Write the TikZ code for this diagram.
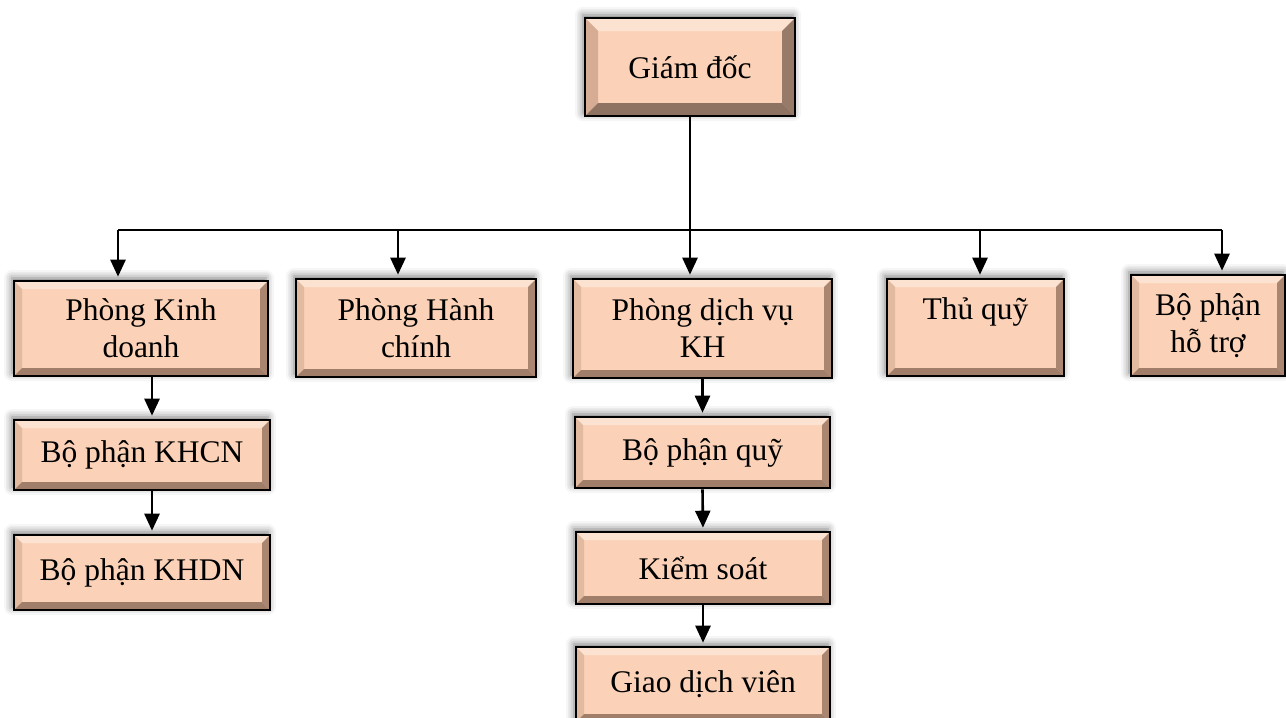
\documentclass[tikz,border=0pt]{standalone}
\usepackage{fontspec}
\setmainfont{Liberation Serif}
\usepackage{xcolor}
\usetikzlibrary{arrows.meta,shadows.blur}

\definecolor{face}{RGB}{251,210,184}
\definecolor{bevtop}{RGB}{252,226,208}
\definecolor{bevleft}{RGB}{226,186,160}
\definecolor{bevright}{RGB}{170,134,112}
\definecolor{bevbot}{RGB}{160,126,106}
\definecolor{headleft}{RGB}{214,172,148}
\definecolor{headright}{RGB}{152,122,104}
\definecolor{headbot}{RGB}{142,114,98}

% bevel: width, top, left, right, bottom
\newcommand{\bevel}[5]{%
  \fill[#2] (path picture bounding box.north west) -- (path picture bounding box.north east)
    -- ([xshift=-#1,yshift=-#1]path picture bounding box.north east)
    -- ([xshift=#1,yshift=-#1]path picture bounding box.north west) -- cycle;
  \fill[#3] (path picture bounding box.north west) -- ([xshift=#1,yshift=-#1]path picture bounding box.north west)
    -- ([xshift=#1,yshift=#1]path picture bounding box.south west)
    -- (path picture bounding box.south west) -- cycle;
  \fill[#4] (path picture bounding box.north east) -- ([xshift=-#1,yshift=-#1]path picture bounding box.north east)
    -- ([xshift=-#1,yshift=#1]path picture bounding box.south east)
    -- (path picture bounding box.south east) -- cycle;
  \fill[#5] (path picture bounding box.south west) -- ([xshift=#1,yshift=#1]path picture bounding box.south west)
    -- ([xshift=-#1,yshift=#1]path picture bounding box.south east)
    -- (path picture bounding box.south east) -- cycle;
}

\begin{document}
\begin{tikzpicture}[x=1pt,y=-1pt]
    \tikzstyle{panel}=[rectangle,draw=black,line width=2.6pt,fill=face,
        align=center,inner sep=0pt,
        font=\fontsize{31.5}{37}\selectfont,
        blur shadow={shadow xshift=-2pt,shadow yshift=3pt,shadow blur radius=8pt,shadow opacity=55},
        path picture={\bevel{8pt}{bevtop}{bevleft}{bevright}{bevbot}}]
    \tikzstyle{headpanel}=[panel,
        path picture={\bevel{13pt}{bevtop}{headleft}{headright}{headbot}}]
    \tikzstyle{arr}=[line width=2.6pt,-{Triangle[width=15pt,length=17pt]},shorten >=3pt]

    \useasboundingbox (0,0) rectangle (1286,718);

    % Director
    \node [headpanel,minimum width=210pt,minimum height=98pt] (gd) at (690,67) {Giám đốc};

    % Departments
    \node [panel,minimum width=254pt,minimum height=95pt] (pkd) at (141,328.5) {Phòng Kinh\\doanh};
    \node [panel,minimum width=240pt,minimum height=98pt] (phc) at (416,328) {Phòng Hành\\chính};
    \node [panel,minimum width=259pt,minimum height=99pt] (pdv) at (702.5,328.5) {Phòng dịch vụ\\KH};
    \node [panel,minimum width=177pt,minimum height=97pt] (tq) at (975.5,327.5) {Thủ quỹ\\\mbox{}};
    \node [panel,minimum width=154pt,minimum height=101pt] (bpht) at (1208,325.5) {Bộ phận\\hỗ trợ};

    % Sub units
    \node [panel,minimum width=256pt,minimum height=70pt] (khcn) at (142,455) {Bộ phận KHCN};
    \node [panel,minimum width=256pt,minimum height=75pt] (khdn) at (142,572.5) {Bộ phận KHDN};
    \node [panel,minimum width=255pt,minimum height=71pt] (bpq) at (702.5,452.5) {Bộ phận quỹ};
    \node [panel,minimum width=254pt,minimum height=72pt] (ks) at (703,568) {Kiểm soát};
    \node [panel,minimum width=254pt,minimum height=75pt] (gdv) at (703,684.5) {Giao dịch viên};

    % Bus line
    \coordinate (busL) at (118,230);
    \coordinate (busH) at (398,230);
    \coordinate (busT) at (980,230);
    \coordinate (busR) at (1222,230);
    \draw [line width=2.2pt] (busL) -- (busR);

    \draw [arr] (gd.south) -- (gd.south |- pdv.north);
    \draw [arr] (busL) -- (busL |- pkd.north);
    \draw [arr] (busH) -- (busH |- phc.north);
    \draw [arr] (busT) -- (busT |- tq.north);
    \draw [arr] (busR) -- (busR |- bpht.north);

    % Chains
    \draw [arr] ([xshift=11pt]pkd.south) -- ([xshift=10pt]khcn.north);
    \draw [arr] ([xshift=10pt]khcn.south) -- ([xshift=10pt]khdn.north);
    \draw [arr] (pdv.south) -- (bpq.north);
    \draw [arr] (bpq.south) -- (ks.north);
    \draw [arr] (ks.south) -- (gdv.north);
\end{tikzpicture}
\end{document}
